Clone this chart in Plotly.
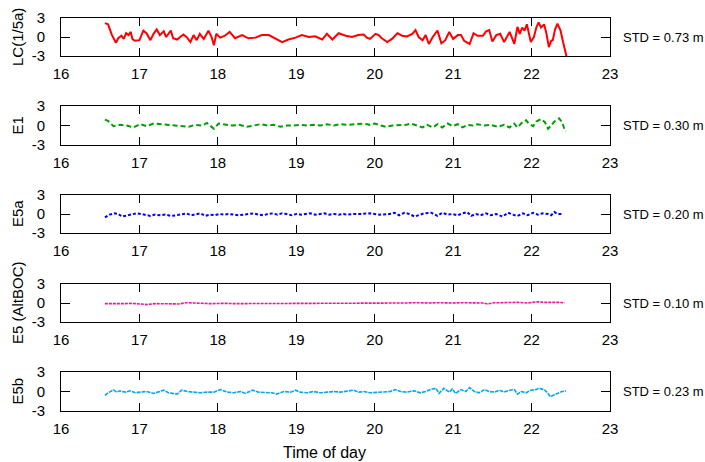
import plotly.graph_objects as go

# ---- data ----
red_t = [16.56,16.60,16.65,16.70,16.73,16.77,16.80,16.83,16.86,16.89,16.91,16.94,17.00,17.05,17.09,17.14,17.18,17.22,17.26,17.31,17.34,17.37,17.40,17.43,17.48,17.52,17.56,17.60,17.65,17.69,17.73,17.77,17.82,17.88,17.92,17.95,17.98,18.03,18.09,18.15,18.22,18.31,18.39,18.48,18.56,18.65,18.73,18.82,18.90,18.99,19.07,19.16,19.24,19.33,19.39,19.46,19.54,19.63,19.71,19.79,19.86,19.90,19.94,20.01,20.05,20.09,20.16,20.22,20.29,20.35,20.41,20.48,20.52,20.56,20.61,20.65,20.69,20.74,20.80,20.85,20.90,20.95,21.00,21.06,21.10,21.14,21.21,21.26,21.31,21.38,21.42,21.46,21.50,21.55,21.60,21.65,21.72,21.78,21.82,21.85,21.88,21.91,21.94,21.96,21.99,22.03,22.06,22.09,22.12,22.16,22.19,22.22,22.25,22.27,22.30,22.33,22.37,22.40,22.43,22.45]
red_v = [2.2,2.0,0.3,-0.9,-0.2,0.2,-0.3,0.6,0.3,0.8,-0.3,-0.6,-0.5,1.0,0.6,-0.5,0.5,1.2,0.3,0.9,0.0,0.6,1.0,-0.2,-0.4,0.0,0.4,0.0,-0.8,0.3,-0.5,0.5,-0.3,1.0,0.0,-1.3,0.5,-0.1,0.2,0.8,-0.2,0.3,-0.2,-0.1,0.3,0.3,-0.2,-0.8,-0.4,-0.1,0.3,0.0,0.1,-0.4,0.5,-0.4,0.6,0.2,0.0,0.3,0.4,-0.1,-0.3,0.5,0.3,-0.2,-0.8,-0.3,0.6,0.2,0.1,0.5,1.1,0.0,-0.5,0.3,-1.1,0.0,1.0,-1.0,-0.5,0.8,-0.3,0.3,0.3,-0.6,-1.1,0.6,0.2,0.2,0.9,1.1,-0.7,0.3,0.5,-0.8,0.8,-1.1,1.6,0.5,1.5,1.0,2.0,0.8,-0.8,0.0,1.5,2.3,1.5,2.0,0.5,-1.6,-0.6,-0.5,1.2,2.1,1.0,-0.7,-2.4,-3.3]

green_t = [16.56,16.60,16.67,16.75,16.84,16.92,17.01,17.09,17.18,17.26,17.35,17.43,17.54,17.63,17.71,17.80,17.86,17.95,18.01,18.10,18.18,18.27,18.37,18.46,18.54,18.63,18.71,18.80,18.88,18.97,19.05,19.14,19.22,19.31,19.39,19.48,19.56,19.65,19.73,19.80,19.86,19.94,20.00,20.08,20.14,20.23,20.31,20.40,20.46,20.54,20.61,20.67,20.74,20.80,20.86,20.93,20.99,21.06,21.12,21.18,21.25,21.31,21.40,21.48,21.57,21.65,21.72,21.78,21.82,21.89,21.93,21.97,22.02,22.06,22.12,22.17,22.21,22.25,22.29,22.35,22.39,22.42,22.44]
green_v = [0.9,0.7,-0.1,0.1,0.0,-0.3,0.2,-0.1,0.3,0.2,0.1,0.0,-0.1,-0.2,0.1,0.0,0.4,-0.5,0.3,0.2,0.0,0.1,-0.2,0.0,0.2,0.0,0.1,-0.2,0.0,0.0,0.1,0.0,0.1,0.0,0.2,0.0,0.2,0.1,0.2,0.2,0.3,0.1,0.3,0.0,-0.2,0.0,0.1,0.1,0.3,0.0,-0.3,0.1,-0.3,0.2,-0.3,0.3,-0.1,0.2,-0.3,0.1,0.0,0.2,0.0,0.1,-0.2,0.1,-0.3,0.3,-0.3,0.6,0.8,0.2,-0.1,0.6,1.0,0.5,-0.5,0.0,0.6,1.1,0.5,-0.6,-0.9]

blue_t = [16.56,16.62,16.68,16.73,16.78,16.84,16.90,16.96,17.02,17.08,17.14,17.20,17.27,17.33,17.40,17.47,17.54,17.60,17.66,17.72,17.78,17.84,17.90,17.96,18.02,18.08,18.14,18.20,18.27,18.33,18.40,18.46,18.52,18.58,18.64,18.70,18.76,18.82,18.88,18.94,19.00,19.06,19.12,19.18,19.24,19.30,19.36,19.42,19.48,19.54,19.60,19.66,19.72,19.81,19.94,20.06,20.19,20.25,20.31,20.38,20.44,20.51,20.57,20.63,20.72,20.80,20.86,20.93,20.99,21.06,21.12,21.18,21.23,21.29,21.35,21.42,21.48,21.55,21.63,21.70,21.76,21.82,21.89,21.95,22.02,22.08,22.14,22.21,22.25,22.29,22.33,22.40]
blue_v = [-0.55,-0.1,0.1,0.0,-0.4,-0.2,-0.1,0.1,0.0,-0.2,-0.3,-0.1,-0.2,-0.1,-0.3,-0.2,-0.1,0.1,-0.2,0.0,0.1,-0.3,-0.1,-0.2,0.0,-0.1,0.0,-0.1,-0.2,-0.1,0.0,0.1,-0.1,-0.2,0.0,0.1,-0.1,0.1,0.0,-0.2,0.0,-0.1,0.0,0.1,-0.1,0.0,0.1,-0.1,0.0,-0.1,0.0,-0.1,0.0,0.0,0.1,-0.1,0.0,0.2,-0.2,0.2,0.0,-0.4,-0.1,0.1,0.2,-0.3,0.2,-0.1,0.0,-0.2,0.1,0.3,-0.3,0.0,-0.2,0.1,-0.2,0.0,-0.4,0.2,-0.1,-0.3,0.1,-0.2,0.2,-0.1,0.1,0.0,-0.2,0.3,0.0,0.0]

mag_t = [16.56,16.65,16.72,16.80,16.90,17.00,17.10,17.20,17.30,17.40,17.50,17.60,17.70,17.80,17.90,18.00,18.10,18.20,18.30,18.40,18.50,18.60,18.70,18.80,18.90,19.00,19.10,19.20,19.30,19.40,19.50,19.60,19.70,19.80,19.90,20.00,20.10,20.20,20.30,20.40,20.50,20.60,20.70,20.80,20.90,21.00,21.10,21.20,21.30,21.38,21.44,21.52,21.60,21.70,21.82,21.95,22.08,22.15,22.21,22.29,22.36,22.42]
mag_v = [-0.1,-0.1,-0.2,-0.1,-0.05,-0.1,-0.25,-0.1,-0.1,-0.05,-0.15,0.05,-0.05,-0.05,-0.1,-0.05,-0.05,-0.1,-0.1,-0.05,-0.1,-0.05,-0.05,0.0,-0.05,-0.05,0.0,0.0,-0.05,0.0,0.0,-0.05,0.0,0.0,-0.05,0.0,0.0,-0.05,0.0,0.0,0.05,0.0,0.0,0.05,0.0,0.0,0.05,0.0,0.05,0.0,-0.15,0.05,0.05,0.1,0.1,0.0,0.2,0.1,0.1,0.2,0.1,0.0]

cyan_t = [16.56,16.60,16.67,16.71,16.75,16.82,16.88,16.95,17.01,17.09,17.18,17.24,17.31,17.37,17.43,17.48,17.54,17.61,17.69,17.78,17.86,17.95,18.03,18.12,18.20,18.29,18.35,18.44,18.52,18.61,18.69,18.75,18.84,18.93,18.99,19.05,19.14,19.22,19.31,19.39,19.48,19.56,19.65,19.73,19.80,19.86,19.94,20.03,20.11,20.20,20.26,20.33,20.41,20.50,20.58,20.65,20.71,20.78,20.82,20.88,20.95,20.99,21.03,21.10,21.16,21.21,21.27,21.33,21.40,21.46,21.53,21.59,21.65,21.72,21.78,21.82,21.87,21.93,21.99,22.06,22.10,22.17,22.21,22.24,22.29,22.34,22.39,22.44]
cyan_v = [-0.6,-0.2,0.25,-0.1,0.1,-0.1,0.1,-0.2,-0.1,0.0,-0.3,-0.1,0.2,-0.2,-0.3,-0.4,0.2,0.0,-0.1,-0.2,-0.1,-0.1,0.3,-0.1,-0.2,0.0,-0.3,0.2,-0.1,-0.2,-0.2,-0.4,0.0,-0.1,0.2,-0.1,-0.2,0.0,-0.2,-0.1,0.0,-0.1,0.1,0.2,-0.1,0.0,-0.2,-0.1,-0.1,0.0,0.3,0.0,-0.1,0.1,-0.2,0.0,0.3,0.5,-0.3,0.5,-0.1,0.4,-0.3,0.3,0.0,0.6,0.0,-0.2,0.3,0.0,-0.1,0.2,-0.1,0.2,0.3,-0.4,0.0,-0.2,0.2,0.3,0.5,0.2,-0.3,-0.8,-0.5,-0.2,0.0,0.1]

panel_labels = ["LC(1/5a)", "E1", "E5a", "E5 (AltBOC)", "E5b"]
std_labels = ["STD = 0.73 m", "STD = 0.30 m", "STD = 0.20 m", "STD = 0.10 m", "STD = 0.23 m"]
x_ticks = [16, 17, 18, 19, 20, 21, 22, 23]
y_ticks = [-3, 0, 3]
y_tick_text = ["-3", "0", "3"]
x_title = "Time of day"

series = [(red_t, red_v), (green_t, green_v), (blue_t, blue_v), (mag_t, mag_v), (cyan_t, cyan_v)]
colors = ["#ff0000", "#00a000", "#0000ff", "#f0169a", "#00a8ec"]
dashes = ["solid", "5px,3px", "3px,2px", "3px,1px", "4px,1px"]
widths = [2, 2, 2, 1.6, 1.6]

# figure geometry (pixels)
W, H = 705, 462
ML, MR, MT, MB = 61, 95, 18, 51
panels_px = [(18, 56), (106, 145), (195, 233), (284, 322), (372, 411)]
ph = H - MT - MB

def frac(ypx):
    return (H - MB - ypx) / ph

FONT = "Liberation Sans, Arial, Helvetica, sans-serif"
fig = go.Figure()
layout = dict(
    width=W, height=H,
    margin=dict(l=ML, r=MR, t=MT, b=MB, autoexpand=False),
    paper_bgcolor="white", plot_bgcolor="white",
    showlegend=False,
    font=dict(family=FONT, size=15, color="black"),
)
annotations = []
for i, ((t, v), (top, bot)) in enumerate(zip(series, panels_px)):
    n = i + 1
    xa = "x" if n == 1 else f"x{n}"
    ya = "y" if n == 1 else f"y{n}"
    fig.add_trace(go.Scatter(x=t, y=v, mode="lines", xaxis=xa, yaxis=ya,
                             line=dict(color=colors[i], width=widths[i], dash=dashes[i]),
                             hoverinfo="skip"))
    common = dict(showgrid=False, zeroline=False, showline=True, linecolor="black",
                  linewidth=1, mirror="ticks", ticks="inside", tickcolor="black",
                  tickwidth=1, tickfont=dict(family=FONT, size=15, color="black"))
    layout[f"xaxis{'' if n == 1 else n}"] = dict(
        common, domain=[0, 1], anchor=ya, range=[16, 23], tickvals=x_ticks,
        ticklen=8, ticklabelstandoff=4)
    layout[f"yaxis{'' if n == 1 else n}"] = dict(
        common, domain=[frac(bot), frac(top)], anchor=xa, range=[-3, 3],
        tickvals=y_ticks, ticktext=y_tick_text, ticklen=9, ticklabelstandoff=12)
    annotations.append(dict(text=panel_labels[i], xref="paper", yref=f"{ya} domain",
                            x=(17 - ML) / (W - ML - MR), y=0.5, xanchor="center", yanchor="middle",
                            textangle=-90, showarrow=False,
                            font=dict(family=FONT, size=15, color="black")))
    annotations.append(dict(text=std_labels[i], xref="paper", yref=f"{ya} domain",
                            x=(621 - ML) / (W - ML - MR), y=0.5, xanchor="left", yanchor="middle",
                            showarrow=False, font=dict(family=FONT, size=13, color="black")))
annotations.append(dict(text=x_title, xref="paper", yref="paper",
                        x=(324 - ML) / (W - ML - MR), y=frac(452), xanchor="center", yanchor="middle",
                        showarrow=False, font=dict(family=FONT, size=16, color="black")))
layout["annotations"] = annotations
fig.update_layout(**layout)
fig.write_html("out.html")
